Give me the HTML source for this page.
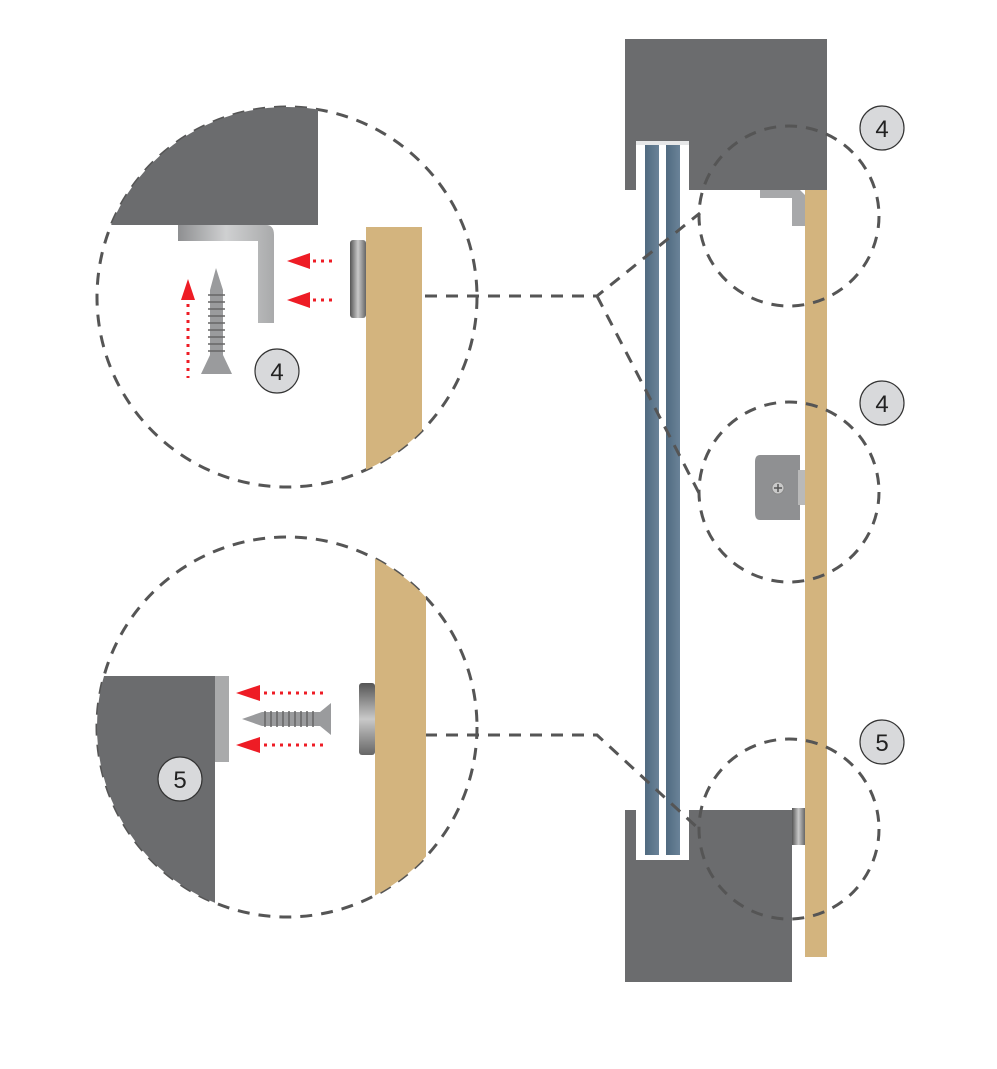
<!DOCTYPE html>
<html><head><meta charset="utf-8"><style>html,body{margin:0;padding:0;background:#fff}svg{display:block}</style></head>
<body>
<svg width="997" height="1069" viewBox="0 0 997 1069" xmlns="http://www.w3.org/2000/svg" font-family="Liberation Sans, sans-serif">
<defs>
<clipPath id="c1"><circle cx="287" cy="297" r="190"/></clipPath>
<clipPath id="c2"><circle cx="287" cy="727" r="190"/></clipPath>
<linearGradient id="glass" x1="0" y1="0" x2="1" y2="0"><stop offset="0" stop-color="#506a80"/><stop offset="1" stop-color="#6a8398"/></linearGradient>
<linearGradient id="metal" x1="0" y1="0" x2="1" y2="0"><stop offset="0" stop-color="#8e8f91"/><stop offset="0.5" stop-color="#cfd0d1"/><stop offset="1" stop-color="#a9aaab"/></linearGradient>
<linearGradient id="bump" x1="0" y1="0" x2="1" y2="0"><stop offset="0" stop-color="#555"/><stop offset="0.5" stop-color="#c9c9c9"/><stop offset="1" stop-color="#666"/></linearGradient>
<linearGradient id="bumpv" x1="0" y1="0" x2="0" y2="1"><stop offset="0" stop-color="#555"/><stop offset="0.5" stop-color="#c9c9c9"/><stop offset="1" stop-color="#666"/></linearGradient>
</defs>

<!-- Right structure -->
<path d="M625 39 H827 V190 H689 V141 H636 V190 H625 Z" fill="#6b6c6e"/>
<rect x="636" y="141" width="53" height="4" fill="#e6e7e8"/>
<path d="M625 982 H792 V810 H689 V860 H636 V810 H625 Z" fill="#6b6c6e"/>
<rect x="645" y="145" width="14" height="710" fill="url(#glass)"/>
<rect x="666" y="145" width="14" height="710" fill="url(#glass)"/>
<rect x="805" y="190" width="22" height="767" fill="#d3b47e"/>
<!-- top bracket -->
<path d="M760 190 H800 L805 195 V226 H792 V198 H760 Z" fill="#a7a8aa"/>
<!-- middle bracket -->
<path d="M760 455 H800 V520 H760 Q755 520 755 513 V462 Q755 455 760 455 Z" fill="#8f9092"/>
<rect x="798" y="470" width="7" height="35" fill="#b9b9b9"/>
<circle cx="778" cy="488" r="6" fill="#c9c9c9" stroke="#888"/>
<path d="M774 488 H782 M778 484 V492" stroke="#555" stroke-width="1.5"/>
<!-- bottom bumper -->
<rect x="792" y="808" width="13" height="37" fill="url(#bump)"/>

<!-- Dashed circles -->
<g fill="none" stroke="#555" stroke-width="3" stroke-dasharray="12 9">
<circle cx="789" cy="216" r="90"/>
<circle cx="789" cy="492" r="90"/>
<circle cx="789" cy="829" r="90"/>
<circle cx="287" cy="297" r="190"/>
<circle cx="287" cy="727" r="190"/>
<path d="M425 296 H597 L700 213 M597 296 L700 495"/>
<path d="M425 735 H597 L700 830"/>
</g>

<!-- Top-left detail -->
<g clip-path="url(#c1)">
<rect x="90" y="100" width="228" height="125" fill="#6b6c6e"/>
<path d="M178 225 H266 Q274 225 274 235 V323 H258 V241 H178 Z" fill="url(#metal)"/>
<rect x="366" y="227" width="56" height="260" fill="#d3b47e"/>
<rect x="350" y="240" width="16" height="78" rx="3" fill="url(#bump)"/>
</g>
<!-- screw vertical -->
<path d="M216 268 L223 290 V355 L232 374 H201 L210 355 V290 Z" fill="#9a9b9d"/>
<g stroke="#666" stroke-width="1.5">
<path d="M208 295 H225 M208 302 H225 M208 309 H225 M208 316 H225 M208 323 H225 M208 330 H225 M208 337 H225 M208 344 H225 M208 351 H225"/>
</g>
<!-- red arrows -->
<polygon points="181,300 195,300 188,279" fill="#ee1c25"/>
<line x1="188" y1="304" x2="188" y2="378" stroke="#ee1c25" stroke-width="3" stroke-dasharray="3 5"/>
<polygon points="287,261 310,253 310,269" fill="#ee1c25"/>
<polygon points="287,300 310,292 310,308" fill="#ee1c25"/>
<g stroke="#ee1c25" stroke-width="3" stroke-dasharray="3 5"><line x1="313" y1="261" x2="337" y2="261"/><line x1="313" y1="300" x2="337" y2="300"/></g>

<!-- Bottom-left detail -->
<g clip-path="url(#c2)">
<rect x="90" y="676" width="125" height="250" fill="#6b6c6e"/>
<rect x="215" y="676" width="14" height="86" fill="#a9aaab"/>
<rect x="375" y="530" width="51" height="400" fill="#d3b47e"/>
<rect x="359" y="683" width="16" height="72" rx="3" fill="url(#bumpv)"/>
</g>
<path d="M242 719 L262 712 H320 L331 703 V735 L320 726 H262 Z" fill="#9a9b9d"/>
<g stroke="#666" stroke-width="1.5"><path d="M265 711 V727 M271 711 V727 M277 711 V727 M283 711 V727 M289 711 V727 M295 711 V727 M301 711 V727 M307 711 V727 M313 711 V727"/></g>
<polygon points="236,693 260,685 260,701" fill="#ee1c25"/>
<polygon points="236,745 260,737 260,753" fill="#ee1c25"/>
<g stroke="#ee1c25" stroke-width="3" stroke-dasharray="3 5"><line x1="264" y1="693" x2="327" y2="693"/><line x1="264" y1="745" x2="327" y2="745"/></g>

<!-- badges -->
<g fill="#d8d9db" stroke="#333" stroke-width="1.2">
<circle cx="882" cy="128" r="22"/><circle cx="882" cy="403" r="22"/><circle cx="882" cy="742" r="22"/>
<circle cx="277" cy="371" r="22"/><circle cx="180" cy="779" r="22"/>
</g>
<g font-size="24" fill="#222" text-anchor="middle">
<text x="882" y="137">4</text><text x="882" y="412">4</text><text x="882" y="751">5</text>
<text x="277" y="380">4</text><text x="180" y="788">5</text>
</g>
</svg>
</body></html>
